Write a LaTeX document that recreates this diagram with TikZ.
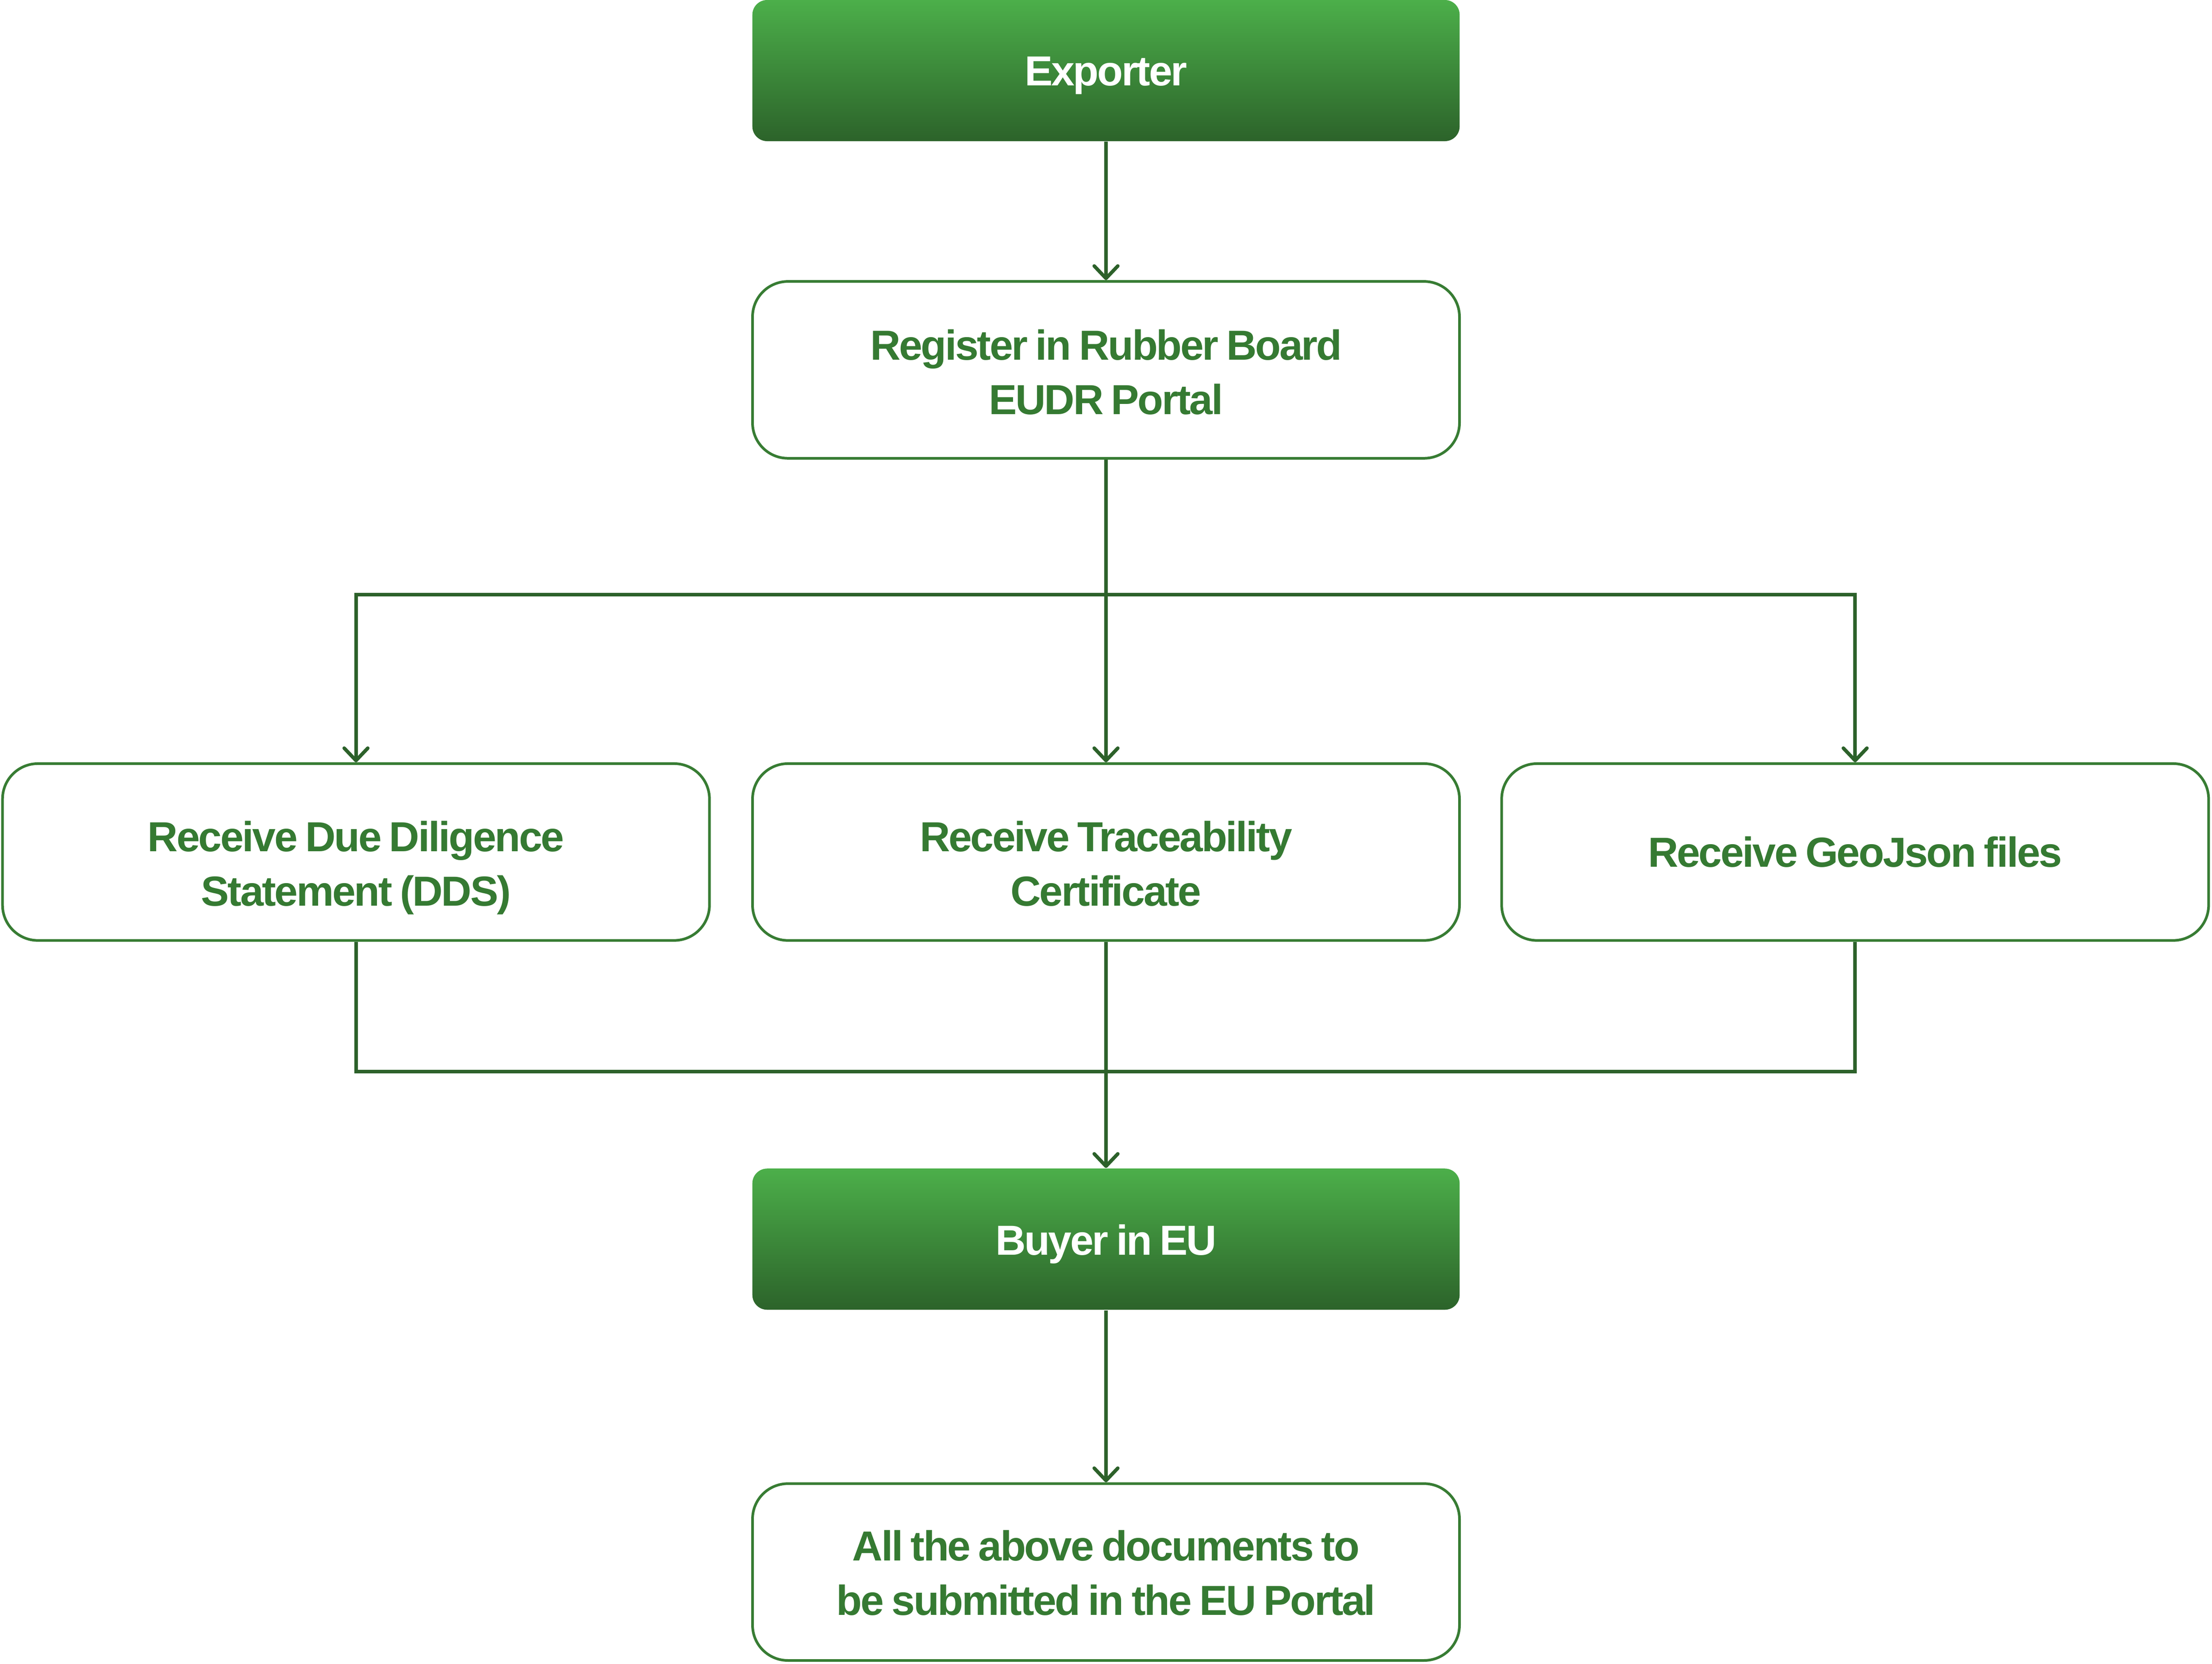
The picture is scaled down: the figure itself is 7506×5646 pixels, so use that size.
\documentclass[tikz,border=0pt]{standalone}
\usepackage{fontspec}
\setmainfont{Liberation Sans}[LetterSpace=-3.5,WordSpace=0.75]
\usetikzlibrary{arrows.meta}
\definecolor{txtgreen}{RGB}{53,122,50}
\definecolor{bordergreen}{RGB}{55,124,51}
\definecolor{linegreen}{RGB}{44,97,42}
\definecolor{gradtop}{RGB}{76,175,74}
\definecolor{gradbot}{RGB}{44,99,42}
\newcommand{\twolines}[2]{\begin{tabular}[t]{@{}c@{}}#1\\#2\end{tabular}}
\begin{document}
\begin{tikzpicture}[x=0.1pt,y=-0.1pt,
  lbl/.style={font=\fontsize{14.25pt}{18.4pt}\selectfont\bfseries},
  solidbox/.style={rectangle, rounded corners=5pt, minimum width=240pt, minimum height=47.9pt,
    inner sep=0pt, top color=gradtop, bottom color=gradbot, text=white, lbl},
  outbox/.style={rectangle, rounded corners=12pt, draw=bordergreen, line width=0.9pt,
    minimum width=239.9pt, minimum height=60pt, inner sep=0pt, fill=white, text=txtgreen, lbl},
  conn/.style={draw=linegreen, line width=1.2pt},
  arr/.style={conn, -{Straight Barb[length=4.2pt,width=8pt,round]}}]
\useasboundingbox (0,0) rectangle (7506,5646);

\node[solidbox, text height=10.3pt, text depth=0pt] (exp) at (3753,239.5) {Exporter};
\node[outbox, text height=0pt, text depth=6.6pt] (reg) at (3753,1255) {\twolines{Register in Rubber Board}{EUDR Portal}};
\node[outbox, text height=0pt, text depth=0.3pt] (dds) at (1208,2891) {\twolines{Receive Due Diligence}{Statement (DDS)}};
\node[outbox, text height=0pt, text depth=0.3pt] (trace) at (3753,2891) {\twolines{Receive Traceability}{Certificate}};
\node[outbox, text height=10pt, text depth=0pt] (geo) at (6295,2891) {Receive GeoJson files};
\node[solidbox, text height=10.6pt, text depth=0pt] (buyer) at (3753,4204.5) {Buyer in EU};
\node[outbox, text height=0pt, text depth=7.6pt] (last) at (3753,5334) {\twolines{All the above documents to}{be submitted in the EU Portal}};

\coordinate (split) at (3753,2018);
\coordinate (merge) at (3753,3636);

\draw[arr] (exp.south) -- (reg.north);
\draw[conn] (reg.south) -- (split);
\draw[arr] (split) -| (dds.north);
\draw[arr] (split) -| (geo.north);
\draw[arr] (split) -- (trace.north);
\draw[conn] (dds.south) |- (merge);
\draw[conn] (geo.south) |- (merge);
\draw[arr] (trace.south) -- (buyer.north);
\draw[arr] (buyer.south) -- (last.north);
\end{tikzpicture}
\end{document}
